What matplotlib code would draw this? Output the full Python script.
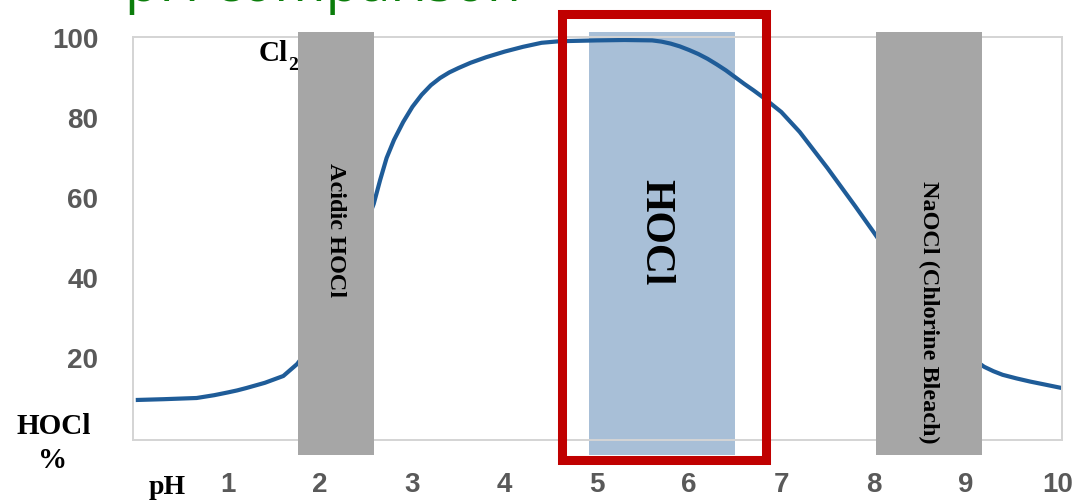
import matplotlib
matplotlib.use("Agg")
import matplotlib.pyplot as plt
from matplotlib.patches import Rectangle

# --- data ---
ph = [0.0, 0.3, 0.66, 0.85, 1.0, 1.1, 1.2, 1.4, 1.6, 1.75, 2.0, 2.3, 2.58,
      2.65, 2.72, 2.8, 2.9, 3.0, 3.1, 3.2, 3.3, 3.4, 3.5, 3.63, 3.8, 4.0,
      4.2, 4.4, 4.6, 5.0, 5.3, 5.6, 5.7, 5.8, 5.9, 6.0, 6.1, 6.2, 6.3, 6.4,
      6.5, 6.6, 6.7, 6.8, 7.0, 7.2, 7.5, 7.8, 8.0, 8.5, 9.0, 9.2, 9.3, 9.4,
      9.55, 9.7, 9.85, 10.04]
hocl_pct = [9.5, 9.7, 10.0, 10.7, 11.4, 11.9, 12.5, 13.8, 15.5, 18.5, 26, 42,
            58.5, 64.5, 70, 74.5, 79, 82.8, 85.8, 88.2, 90.0, 91.4, 92.5, 93.8,
            95.2, 96.6, 97.8, 98.8, 99.2, 99.4, 99.5, 99.4, 99.1, 98.6, 97.9,
            97.0, 96.0, 94.8, 93.4, 91.9, 90.2, 88.5, 86.9, 85.2, 81.5, 76.5,
            67.5, 58, 51.5, 35, 21, 17.8, 16.7, 15.8, 14.9, 14.1, 13.4, 12.5]

x_ticks = [1, 2, 3, 4, 5, 6, 7, 8, 9, 10]
y_ticks = [20, 40, 60, 80, 100]

# grey bands (pH start, pH end) and their labels
grey_bands = [(1.76, 2.58), (8.03, 9.18)]
grey_labels = ["Acidic HOCl", "NaOCl (Chlorine Bleach)"]
blue_band = (4.91, 6.50)
red_box = (4.62, 6.83)
band_bottom, band_top = -4.3, 101.5

W, H = 1086, 500
fig = plt.figure(figsize=(W / 100, H / 100), dpi=100)
ax = fig.add_axes([133 / W, 1 - 440 / H, 929 / W, 403 / H])

ax.set_xlim(-0.03, 10.044)
ax.set_ylim(-0.5, 100.25)

# blue HOCl band sits under the curve
ax.bar((blue_band[0] + blue_band[1]) / 2, band_top - band_bottom,
       width=blue_band[1] - blue_band[0], bottom=band_bottom,
       color="#a8bfd7", zorder=1, clip_on=False)

ax.plot(ph, hocl_pct, color="#1f5c98", lw=3.0, zorder=2, clip_on=False,
        solid_capstyle="butt", solid_joinstyle="round")

for (a, b), lab in zip(grey_bands, grey_labels):
    ax.bar((a + b) / 2, band_top - band_bottom, width=b - a, bottom=band_bottom,
           color="#a6a6a6", zorder=3, clip_on=False)

ax.add_patch(Rectangle((red_box[0], -5.4), red_box[1] - red_box[0], 111.4,
                       fill=False, edgecolor="#c00000", lw=6.5, zorder=5,
                       clip_on=False))

serif = "Liberation Serif"
ax.text(2.17, 52, grey_labels[0], rotation=-90, ha="center", va="center",
        fontsize=17.5, family=serif, fontweight="bold", zorder=4)
ax.text(8.6, 31.5, grey_labels[1], rotation=-90, ha="center", va="center",
        fontsize=17.5, family=serif, fontweight="bold", zorder=4)
ax.text(5.63, 51.5, "HOCl", rotation=-90, ha="center", va="center",
        fontsize=30, family=serif, fontweight="bold", zorder=4)

# Cl2 label near the top left
ax.text(1.645, 94.2, "Cl", ha="right", va="baseline", fontsize=21,
        family=serif, fontweight="bold", zorder=4)
ax.text(1.655, 92.0, "2", ha="left", va="baseline", fontsize=14,
        family=serif, fontweight="bold", zorder=4)

# axes styling
for s in ax.spines.values():
    s.set_color("#d4d4d4")
    s.set_linewidth(1.4)
ax.set_xticks(x_ticks)
ax.set_yticks(y_ticks)
ax.tick_params(length=0)
ax.tick_params(axis="y", pad=25)
ax.tick_params(axis="x", pad=23)
for t in ax.get_xticklabels() + ax.get_yticklabels():
    t.set_fontfamily("Liberation Sans")
    t.set_fontweight("bold")
    t.set_fontsize(20)
    t.set_color("#595959")

# axis captions
fig.text(54 / W, 1 - 426 / H, "HOCl", ha="center", va="center", fontsize=21,
         family=serif, fontweight="bold")
fig.text(53 / W, 1 - 461 / H, "%", ha="center", va="center", fontsize=21,
         family=serif, fontweight="bold")
fig.text(167 / W, 1 - 494 / H, "pH", ha="center", va="baseline", fontsize=20,
         family=serif, fontweight="bold")

# slide title, cut off by the top edge
fig.text(125 / W, 1 - 1 / H, "pH comparison", ha="left", va="baseline",
         fontsize=40, family="Open Sans", color="#0b7d0b")

fig.savefig("out.png", dpi=100)
